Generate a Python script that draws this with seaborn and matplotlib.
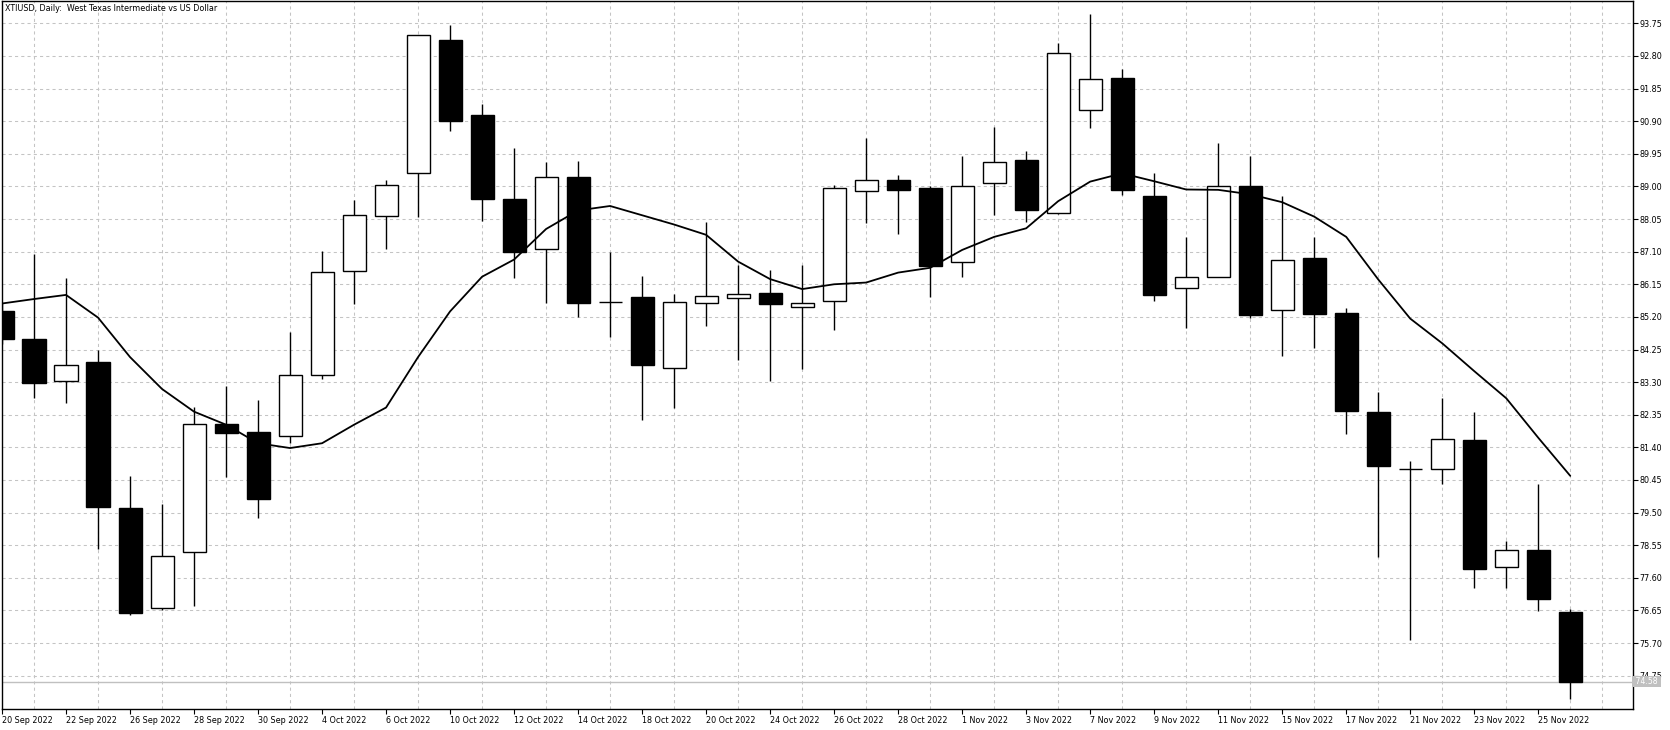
import numpy as np
import pandas as pd
import matplotlib
matplotlib.use("Agg")
import matplotlib.pyplot as plt
import matplotlib.transforms as mtransforms
import seaborn as sns

# daily bars, 20 Sep 2022 .. 28 Nov 2022
dates = ["20 Sep 2022", "21 Sep 2022", "22 Sep 2022", "23 Sep 2022", "26 Sep 2022",
         "27 Sep 2022", "28 Sep 2022", "29 Sep 2022", "30 Sep 2022", "3 Oct 2022",
         "4 Oct 2022", "5 Oct 2022", "6 Oct 2022", "7 Oct 2022", "10 Oct 2022",
         "11 Oct 2022", "12 Oct 2022", "13 Oct 2022", "14 Oct 2022", "17 Oct 2022",
         "18 Oct 2022", "19 Oct 2022", "20 Oct 2022", "21 Oct 2022", "24 Oct 2022",
         "25 Oct 2022", "26 Oct 2022", "27 Oct 2022", "28 Oct 2022", "31 Oct 2022",
         "1 Nov 2022", "2 Nov 2022", "3 Nov 2022", "4 Nov 2022", "7 Nov 2022",
         "8 Nov 2022", "9 Nov 2022", "10 Nov 2022", "11 Nov 2022", "14 Nov 2022",
         "15 Nov 2022", "16 Nov 2022", "17 Nov 2022", "18 Nov 2022", "21 Nov 2022",
         "22 Nov 2022", "23 Nov 2022", "24 Nov 2022", "25 Nov 2022", "28 Nov 2022"]

opens = [85.38, 84.57, 83.32, 83.89, 79.62, 76.73, 78.36, 82.09, 81.86, 81.72,
         83.51, 86.55, 88.15, 89.38, 93.27, 91.09, 88.64, 87.17, 89.26, 85.63,
         85.79, 83.70, 85.61, 85.75, 85.91, 85.50, 85.65, 88.87, 89.18, 88.96,
         86.79, 89.11, 89.76, 88.24, 91.23, 92.16, 88.71, 86.05, 86.36, 89.00,
         85.41, 86.92, 85.31, 82.44, 80.76, 80.77, 81.60, 77.91, 78.40, 76.60]
highs = [85.60, 87.02, 86.33, 84.25, 80.57, 79.76, 82.58, 83.19, 82.78, 84.76,
         87.13, 88.60, 89.18, 93.42, 93.71, 91.40, 90.13, 89.70, 89.75, 87.10,
         86.40, 85.87, 87.95, 86.70, 86.58, 86.70, 89.04, 90.40, 89.34, 89.00,
         89.90, 90.74, 90.03, 93.18, 94.02, 92.41, 89.38, 87.53, 90.25, 89.89,
         88.71, 87.53, 85.45, 83.01, 81.00, 82.85, 82.44, 78.66, 80.32, 76.70]
lows = [84.40, 82.83, 82.70, 78.43, 76.53, 76.66, 76.78, 80.54, 79.35, 81.52,
        83.38, 85.57, 87.17, 88.10, 90.60, 87.99, 86.33, 85.60, 85.20, 84.61,
        82.20, 82.56, 84.94, 83.93, 83.32, 83.69, 84.81, 87.92, 87.62, 85.78,
        86.36, 88.16, 87.96, 88.20, 90.71, 88.76, 85.65, 84.89, 86.36, 85.18,
        84.07, 84.28, 81.78, 78.20, 75.78, 80.32, 77.29, 77.31, 76.64, 74.06]
closes = [84.57, 83.28, 83.80, 79.66, 76.57, 78.24, 82.09, 81.82, 79.89, 83.51,
          86.51, 88.16, 89.03, 93.42, 90.90, 88.64, 87.08, 89.27, 85.60, 85.62,
          83.80, 85.63, 85.80, 85.87, 85.57, 85.59, 88.94, 89.18, 88.90, 86.67,
          89.00, 89.71, 88.31, 92.88, 92.12, 88.90, 85.83, 86.36, 89.00, 85.25,
          86.85, 85.27, 82.45, 80.87, 80.76, 81.63, 77.86, 78.40, 76.98, 74.58]
# moving average line as drawn on the chart
ma = [85.59, 85.72, 85.84, 85.18, 84.03, 83.10, 82.44, 82.06, 81.52, 81.38,
      81.52, 82.06, 82.56, 84.03, 85.36, 86.37, 86.87, 87.76, 88.30, 88.43,
      88.16, 87.89, 87.59, 86.81, 86.30, 86.01, 86.15, 86.20, 86.49, 86.63,
      87.15, 87.53, 87.78, 88.57, 89.14, 89.38, 89.15, 88.91, 88.90, 88.77,
      88.54, 88.12, 87.53, 86.29, 85.15, 84.43, 83.62, 82.83, 81.68, 80.57]

price_ticks = [74.75, 75.70, 76.65, 77.60, 78.55, 79.50, 80.45, 81.40, 82.35, 83.30,
               84.25, 85.20, 86.15, 87.10, 88.05, 89.00, 89.95, 90.90, 91.85, 92.80, 93.75]
last_price = 74.58
title = "XTIUSD, Daily:  West Texas Intermediate vs US Dollar"

df = pd.DataFrame({"date": dates, "open": opens, "high": highs, "low": lows, "close": closes, "ma": ma})
df["i"] = np.arange(len(df))
df["up"] = df["close"] >= df["open"]

sns.set_style("white")
plt.rcParams["font.family"] = ["DejaVu Sans"]

W, H = 1670, 730
fig = plt.figure(figsize=(W / 100, H / 100), dpi=100)
ax = fig.add_axes([2 / W, 1 - 709 / H, (1633 - 2) / W, 708 / H])

grid_kw = dict(color="#c4c4c4", linewidth=0.75, linestyle=(0, (3, 3)))

# wicks
ax.vlines(df["i"], df["low"], df["high"], color="black", linewidth=1.0, zorder=3)
# bodies
body_lo = df[["open", "close"]].min(axis=1)
body_h = (df["close"] - df["open"]).abs()
fill = np.where(df["up"], "white", "black")
ax.bar(df["i"], body_h, bottom=body_lo, width=0.72, color=fill,
       edgecolor="black", linewidth=1.0, zorder=4)

# moving average
sns.lineplot(data=df, x="i", y="ma", color="black", linewidth=1.3, ax=ax, zorder=5)

# last price line
ax.axhline(last_price, color="#c0c0c0", linewidth=1.0, zorder=1)

ax.set_xlim(0, 50.96)
ax.set_ylim(73.78, 94.40)

ax.set_yticks(price_ticks)
ax.set_yticklabels([f"{v:.2f}" for v in price_ticks])
ax.yaxis.tick_right()
ax.set_xticks(df["i"][::2])
ax.set_xticklabels(df["date"][::2], ha="left")
ax.set_xticks(np.arange(0, 51), minor=True)
ax.tick_params(axis="y", direction="out", length=3.5, width=0.8, labelsize=5.8,
               pad=1, colors="black", right=True, left=False)
ax.tick_params(axis="x", which="major", direction="out", length=3.5, width=0.8,
               labelsize=5.8, pad=1.5, colors="black", bottom=True)
ax.tick_params(axis="x", which="minor", length=0)
for lbl in ax.get_xticklabels():
    lbl.set_horizontalalignment("left")

ax.grid(False)
ax.xaxis.grid(True, which="minor", **grid_kw)
ax.yaxis.grid(True, which="major", **grid_kw)
ax.set_axisbelow(True)

for s in ax.spines.values():
    s.set_color("black")
    s.set_linewidth(1.0)

ax.set_xlabel("")
ax.set_ylabel("")

ax.text(3 / (1633 - 2), 1 - 3 / 708, title, transform=ax.transAxes,
        ha="left", va="top", fontsize=5.8, color="black")

# last price tag on the price scale
trans = mtransforms.blended_transform_factory(ax.transAxes, ax.transData)
ax.text(1.0, last_price, " " + f"{last_price:.2f}" + " ", transform=trans, ha="left", va="center",
        fontsize=5.6, color="white", zorder=10, clip_on=False,
        bbox=dict(boxstyle="square,pad=0.1", fc="#c0c0c0", ec="none"))

fig.savefig("out.png", dpi=100)
